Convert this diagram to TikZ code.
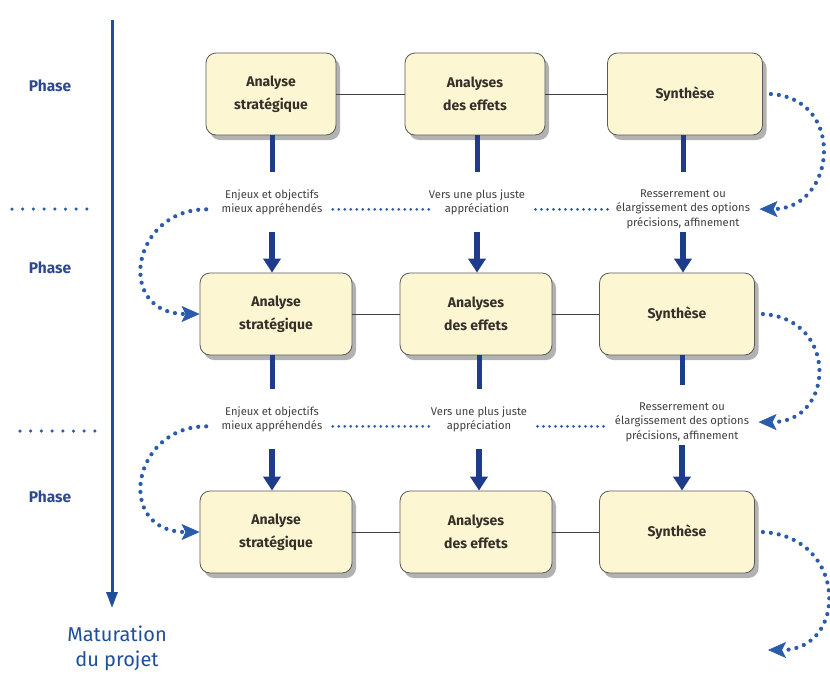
\documentclass[tikz,border=0pt]{standalone}
\usepackage{fontspec}
\setmainfont{Fira Sans}
\usetikzlibrary{arrows.meta,shadows}
\definecolor{navy}{HTML}{1E3C8A}
\definecolor{axisblue}{HTML}{1F4F9C}
\definecolor{dotblue}{HTML}{2A5CAA}
\definecolor{phaseblue}{HTML}{2E4A8E}
\definecolor{cream}{HTML}{FCF7D2}
\definecolor{skyband}{HTML}{D3EAFA}
\definecolor{ink}{HTML}{35302A}
\tikzset{
	box/.style={draw=black!65, line width=0.8pt, fill=cream, rounded corners=10pt, minimum height=82pt, align=center, text=ink, font=\fontsize{14}{23}\selectfont\bfseries, drop shadow={shadow xshift=4pt, shadow yshift=-5pt, fill=black!55, opacity=0.55}},
	note/.style={align=center, anchor=north, text=black!75, font=\fontsize{11.2}{14.5}\selectfont},
	phase/.style={text=phaseblue, font=\fontsize{15.5}{17}\selectfont\bfseries},
	link/.style={draw=black!75, line width=0.9pt},
	stem/.style={navy, line width=5pt},
	down/.style={navy, line width=6pt, -{Triangle[width=17pt,length=14pt]}},
	dots/.style={dotblue, line width=3pt, line cap=round, dash pattern=on 0pt off 6pt},
	loop/.style={dots, line width=4.2pt, dash pattern=on 0pt off 8pt, -{Stealth[length=18pt,width=16pt,inset=4pt,line width=0.5pt]}}
}
\begin{document}
\begin{tikzpicture}[x=1pt, y=-1pt]
	\useasboundingbox (0,0) rectangle (830,678);
	\fill[white] (0,0) rectangle (830,678);
	\fill[left color=white, middle color=skyband, right color=white] (115,5) rectangle (830,678);

	\foreach \y/\n in {86/1,268/2,497/3} \node[phase] (phase\n) at (50,\y) {Phase};
	\draw[dots, line width=3.5pt, dash pattern=on 0pt off 10.7pt] (12,209) -- (90,209);
	\draw[dots, line width=3.5pt, dash pattern=on 0pt off 10.7pt] (20,431) -- (98,431);

	\coordinate (top) at (112,20);
	\node[text=axisblue, align=center, font=\fontsize{20}{25}\selectfont] (mat) at (117,648) {Maturation\\du projet};
	\draw[axisblue, line width=3pt, -{Triangle[width=11pt,length=16pt]}, shorten >=14pt] (top) -- (top |- mat.north);

	\node[box, minimum width=130pt] (ana1) at (271,94) {Analyse\\stratégique};
	\node[box, minimum width=140pt] (eff1) at (475,94) {Analyses\\des effets};
	\node[box, minimum width=155pt] (syn1) at (685,94) {Synthèse};
	\node[box, minimum width=152pt] (ana2) at (276,314) {Analyse\\stratégique};
	\node[box, minimum width=152pt] (eff2) at (476,314) {Analyses\\des effets};
	\node[box, minimum width=155pt] (syn2) at (677,314) {Synthèse};
	\node[box, minimum width=152pt] (ana3) at (276,532) {Analyse\\stratégique};
	\node[box, minimum width=152pt] (eff3) at (476,532) {Analyses\\des effets};
	\node[box, minimum width=155pt] (syn3) at (677,532) {Synthèse};
	\foreach \r in {1,2,3} {
		\draw[link] (ana\r) -- (eff\r);
		\draw[link] (eff\r) -- (syn\r);
	}

	\node[note] (enj1) at (272,186) {Enjeux et objectifs\\mieux appréhendés};
	\node[note] (ver1) at (477,186) {Vers une plus juste\\appréciation};
	\node[note] (res1) at (683,186) {Resserrement ou\\élargissement des options\\précisions, affinement};
	\node[note] (enj2) at (272,403) {Enjeux et objectifs\\mieux appréhendés};
	\node[note] (ver2) at (479,403) {Vers une plus juste\\appréciation};
	\node[note] (res2) at (682,399) {Resserrement ou\\élargissement des options\\précisions, affinement};

	\foreach \r/\s in {1/2,2/3} {
		\foreach \a/\b in {enj/ana,ver/eff,res/syn} {
			\draw[stem] (\a\r.north |- \b\r.south) -- ([yshift=14pt]\a\r.north);
			\draw[down] ([yshift=-46pt]\a\r.north) -- (\a\r.north |- \b\s.north);
		}
		\draw[dots] ([xshift=7pt,yshift=-7pt]enj\r.east) -- ([xshift=4pt,yshift=-7pt]enj\r.east -| ver\r.west);
		\draw[dots] ([xshift=7pt,yshift=-7pt]ver\r.east) -- ([xshift=-3pt,yshift=-7pt]ver\r.east -| res\r.west);
		\draw[loop] ([xshift=-12pt,yshift=-7pt]enj\r.west) .. controls +(-75,0) and +(-85,0) .. (ana\s.west);
		\draw[loop] ([xshift=8pt]syn\r.east) .. controls +(76,5) and +(76,0) .. ([xshift=6pt]res\r.east);
	}
	\coordinate (next) at (768,650);
	\draw[loop] ([xshift=8pt]syn3.east) .. controls +(85,5) and +(80,0) .. (next);
\end{tikzpicture}
\end{document}
